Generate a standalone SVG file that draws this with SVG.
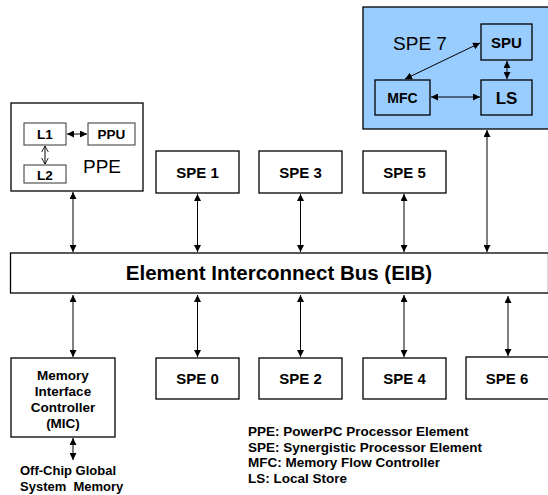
<svg xmlns="http://www.w3.org/2000/svg" width="548" height="495" viewBox="0 0 548 495">
<style>
.box{fill:#fff;stroke:#000;stroke-width:1.3}
.blue{fill:#99ccff;stroke:#000;stroke-width:1.3}
.ibox{fill:#fff;stroke:#333;stroke-width:1}
.b{font-family:"Liberation Sans",Arial,sans-serif;font-weight:bold;fill:#000}
.n{font-family:"Liberation Sans",Arial,sans-serif;fill:#000}
.c{stroke:#000;stroke-width:1;fill:none}
</style>
<defs>
<marker id="ah" viewBox="0 0 10 10" refX="10" refY="5" markerWidth="7" markerHeight="7" markerUnits="userSpaceOnUse" orient="auto-start-reverse">
<path d="M0,0 L10,5 L0,10 z" fill="#000"/>
</marker>
<marker id="oh" viewBox="0 0 10 10" refX="9" refY="5" markerWidth="7" markerHeight="9" markerUnits="userSpaceOnUse" orient="auto-start-reverse">
<path d="M0,0 L9,5 L0,10" fill="none" stroke="#000" stroke-width="1.2"/>
</marker>
</defs>
<g id="ppe">
<rect class="box" x="11" y="103" width="132" height="88"/>
<text class="n" x="102" y="173" font-size="19" text-anchor="middle">PPE</text>
</g>
<g id="l1">
<rect class="ibox" x="24" y="123" width="42" height="22"/>
<text class="b" x="45" y="139" font-size="13.5" text-anchor="middle">L1</text>
</g>
<g id="ppu">
<rect class="ibox" x="88" y="123" width="47" height="22"/>
<text class="b" x="111.5" y="139" font-size="13.5" text-anchor="middle">PPU</text>
</g>
<g id="l2">
<rect class="ibox" x="24" y="165" width="42" height="18"/>
<text class="b" x="45" y="179.5" font-size="13.5" text-anchor="middle">L2</text>
</g>
<g id="spe7">
<rect class="blue" x="363" y="7" width="186" height="122"/>
<text class="n" x="420" y="50" font-size="19" text-anchor="middle">SPE 7</text>
</g>
<g id="spu">
<rect class="blue" x="481" y="24" width="51" height="36"/>
<text class="b" x="506.5" y="47.5" font-size="15" text-anchor="middle">SPU</text>
</g>
<g id="mfc">
<rect class="blue" x="375" y="80" width="55" height="35"/>
<text class="b" x="402.5" y="103" font-size="14" text-anchor="middle">MFC</text>
</g>
<g id="ls">
<rect class="blue" x="481" y="80" width="51" height="35"/>
<text class="b" x="506.5" y="104" font-size="17" text-anchor="middle">LS</text>
</g>
<g id="spe1">
<rect class="box" x="156" y="151" width="83" height="42"/>
<text class="b" x="197.5" y="177.5" font-size="15" text-anchor="middle">SPE 1</text>
</g>
<g id="spe3">
<rect class="box" x="259" y="151" width="83" height="42"/>
<text class="b" x="300.5" y="177.5" font-size="15" text-anchor="middle">SPE 3</text>
</g>
<g id="spe5">
<rect class="box" x="363" y="151" width="83" height="42"/>
<text class="b" x="404.5" y="177.5" font-size="15" text-anchor="middle">SPE 5</text>
</g>
<g id="eib">
<rect class="box" x="10.5" y="253" width="538" height="40"/>
<text class="b" x="279" y="280" font-size="20.5" text-anchor="middle">Element Interconnect Bus (EIB)</text>
</g>
<g id="mic">
<rect class="box" x="11" y="358" width="104" height="79"/>
<text class="b" font-size="13.5" text-anchor="middle"><tspan x="63" y="380">Memory</tspan><tspan x="63" y="396">Interface</tspan><tspan x="63" y="412">Controller</tspan><tspan x="63" y="428">(MIC)</tspan></text>
</g>
<g id="spe0">
<rect class="box" x="156" y="358" width="83" height="41"/>
<text class="b" x="197.5" y="384" font-size="15" text-anchor="middle">SPE 0</text>
</g>
<g id="spe2">
<rect class="box" x="259" y="358" width="83" height="41"/>
<text class="b" x="300.5" y="384" font-size="15" text-anchor="middle">SPE 2</text>
</g>
<g id="spe4">
<rect class="box" x="363" y="358" width="83" height="41"/>
<text class="b" x="404.5" y="384" font-size="15" text-anchor="middle">SPE 4</text>
</g>
<g id="spe6">
<rect class="box" x="466" y="357" width="83" height="42"/>
<text class="b" x="507" y="384" font-size="15" text-anchor="middle">SPE 6</text>
</g>
<g id="memory">
<text class="b" font-size="13" style="white-space:pre"><tspan x="20" y="475">Off-Chip Global</tspan><tspan x="20" y="491">System  Memory</tspan></text>
</g>
<g id="legend">
<text class="b" font-size="13.5"><tspan x="248" y="436">PPE: PowerPC Processor Element</tspan><tspan x="248" y="451.5">SPE: Synergistic Processor Element</tspan><tspan x="248" y="467">MFC: Memory Flow Controller</tspan><tspan x="248" y="482.5">LS: Local Store</tspan></text>
</g>
<g id="connectors">
<line class="c" x1="67" y1="134" x2="87" y2="134" marker-start="url(#ah)" marker-end="url(#ah)"/>
<line class="c" x1="45" y1="146" x2="45" y2="164" marker-start="url(#oh)" marker-end="url(#oh)"/>
<line class="c" x1="480" y1="43" x2="405" y2="79" marker-start="url(#ah)" marker-end="url(#ah)"/>
<line class="c" x1="507" y1="61" x2="507" y2="79" marker-start="url(#ah)" marker-end="url(#ah)"/>
<line class="c" x1="431" y1="97" x2="480" y2="97" marker-start="url(#ah)" marker-end="url(#ah)"/>
<line class="c" x1="73" y1="192" x2="73" y2="252" marker-start="url(#ah)" marker-end="url(#ah)"/>
<line class="c" x1="197.5" y1="194" x2="197.5" y2="252" marker-start="url(#ah)" marker-end="url(#ah)"/>
<line class="c" x1="300.5" y1="194" x2="300.5" y2="252" marker-start="url(#ah)" marker-end="url(#ah)"/>
<line class="c" x1="404" y1="194" x2="404" y2="252" marker-start="url(#ah)" marker-end="url(#ah)"/>
<line class="c" x1="487" y1="130" x2="487" y2="252" marker-start="url(#ah)" marker-end="url(#ah)"/>
<line class="c" x1="73" y1="295" x2="73" y2="357" marker-start="url(#ah)" marker-end="url(#ah)"/>
<line class="c" x1="197.5" y1="295" x2="197.5" y2="357" marker-start="url(#ah)" marker-end="url(#ah)"/>
<line class="c" x1="300.5" y1="295" x2="300.5" y2="357" marker-start="url(#ah)" marker-end="url(#ah)"/>
<line class="c" x1="404" y1="295" x2="404" y2="357" marker-start="url(#ah)" marker-end="url(#ah)"/>
<line class="c" x1="508" y1="296" x2="508" y2="356" marker-start="url(#ah)" marker-end="url(#ah)"/>
<line class="c" x1="73" y1="438" x2="73" y2="460" marker-start="url(#ah)" marker-end="url(#ah)"/>
</g>
</svg>
